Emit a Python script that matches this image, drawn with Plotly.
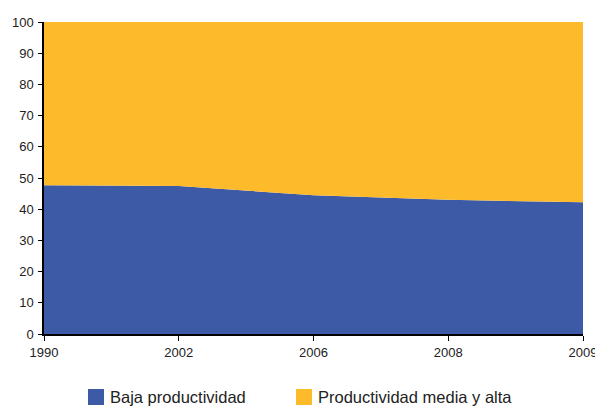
import plotly.graph_objects as go

years = ["1990", "2002", "2006", "2008", "2009"]
baja = [47.7, 47.4, 44.5, 43.0, 42.2]
media_alta = [100 - v for v in baja]
yticks = [0, 10, 20, 30, 40, 50, 60, 70, 80, 90, 100]
series_names = ["Baja productividad", "Productividad media y alta"]

BLUE = "#3C5AA6"
YELLOW = "#FDBA2B"
colors = [BLUE, YELLOW]

xs = list(range(len(years)))
fig = go.Figure()
fig.add_trace(go.Scatter(x=xs, y=baja, stackgroup="one", mode="none", name=series_names[0],
                         fillcolor=BLUE, showlegend=False, hoverinfo="skip"))
fig.add_trace(go.Scatter(x=xs, y=media_alta, stackgroup="one", mode="none", name=series_names[1],
                         fillcolor=YELLOW, showlegend=False, hoverinfo="skip"))

# manual legend (paper coordinates)
legend_sq = [(0.0816, 0.1113), (0.4675, 0.4972)]
legend_tx = [0.1187, 0.5046]
for (x0, x1), tx, name, col in zip(legend_sq, legend_tx, series_names, colors):
    fig.add_shape(type="rect", xref="paper", yref="paper", x0=x0, x1=x1, y0=-0.2276, y1=-0.1763,
                  fillcolor=col, line=dict(width=0))
    fig.add_annotation(xref="paper", yref="paper", x=tx, y=-0.2019, text=name, showarrow=False,
                       xanchor="left", yanchor="middle", font=dict(size=16.5, color="#222"))

fig.update_layout(
    width=595, height=407,
    margin=dict(l=44, r=12, t=22, b=73),
    paper_bgcolor="white", plot_bgcolor="white",
    font=dict(family="Liberation Sans, Arial, sans-serif", size=13, color="#222"),
    showlegend=False,
)
fig.update_xaxes(range=[0, len(years) - 1], tickmode="array", tickvals=xs, ticktext=years,
                 showgrid=False, zeroline=False, showline=True, linecolor="black", linewidth=1.5,
                 ticks="outside", ticklen=5, tickcolor="black", tickfont=dict(size=13),
                 automargin=False, ticklabeloverflow="allow", ticklabelstandoff=1)
fig.update_yaxes(range=[0, 100], tickmode="array", tickvals=yticks,
                 showgrid=False, zeroline=False, showline=True, linecolor="black", linewidth=1.5,
                 ticks="outside", ticklen=4, tickcolor="black", tickfont=dict(size=13),
                 automargin=False, ticklabelstandoff=2)

fig.write_html("out.html", config={"displayModeBar": False},
               post_script="document.body.style.margin='0';document.body.style.overflow='hidden';")
